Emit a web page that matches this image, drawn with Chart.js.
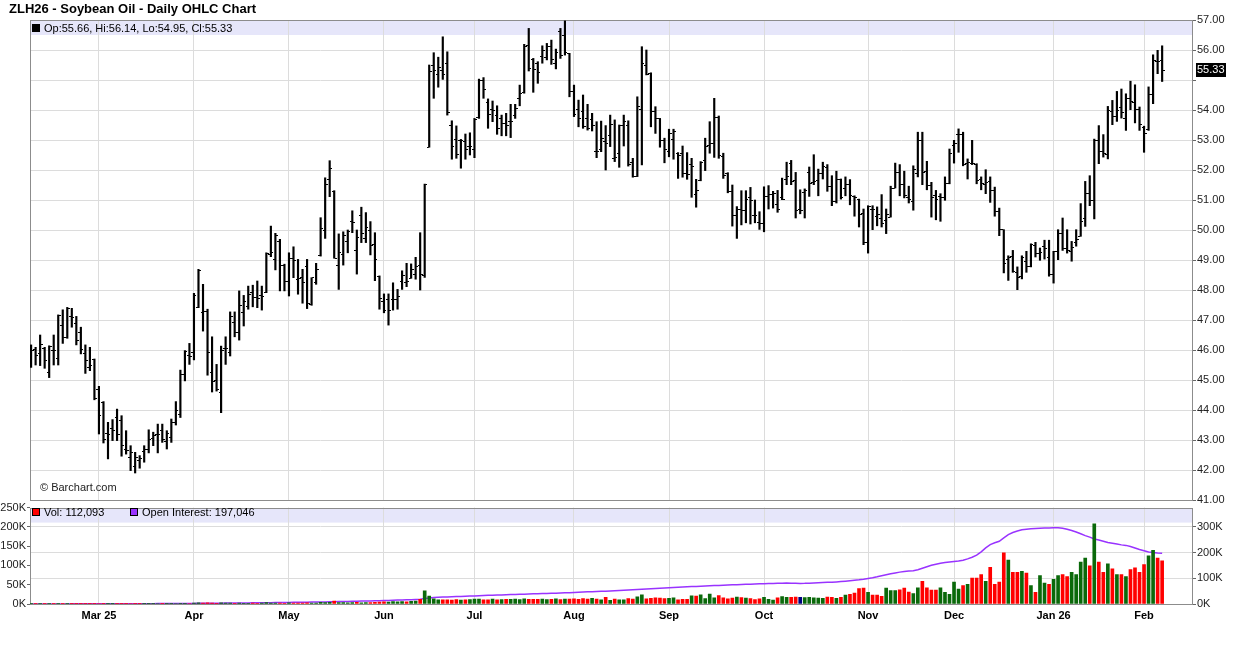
<!DOCTYPE html>
<html>
<head>
<meta charset="utf-8">
<script src="https://cdn.jsdelivr.net/npm/chart.js@4.4.1/dist/chart.umd.min.js"></script>
<style>
  html, body { margin: 0; padding: 0; background: #fff; }
  body { width: 1236px; height: 645px; position: relative; overflow: hidden; font-family: "Liberation Sans", Arial, sans-serif; }
  canvas { position: absolute; left: 0; }
  #price { top: 0; }
  #vol { top: 500px; }
  .title { position: absolute; left: 9px; top: 1px; font-size: 13px; font-weight: bold; line-height: 16px; color: #000; }
  .legend { position: absolute; font-size: 11px; line-height: 14px; color: #000; white-space: nowrap; }
  .sq { display: inline-block; width: 6px; height: 6px; border: 1px solid #000; margin-right: 4px; vertical-align: 0; }
  .copy { position: absolute; left: 40px; top: 481px; font-size: 11px; color: #222; }
</style>
</head>
<body>
<canvas id="price" width="1236" height="510"></canvas>
<canvas id="vol" width="1236" height="145"></canvas>
<div class="title">ZLH26 - Soybean Oil - Daily OHLC Chart</div>
<div class="legend" style="left:32px; top:21px;"><span class="sq" style="background:#000"></span>Op:55.66, Hi:56.14, Lo:54.95, Cl:55.33</div>
<div class="copy">© Barchart.com</div>
<div class="legend" style="left:32px; top:505px;"><span class="sq" style="background:#ff0000"></span>Vol: 112,093</div>
<div class="legend" style="left:130px; top:505px;"><span class="sq" style="background:#9933ff"></span>Open Interest: 197,046</div>
<script>
// daily bars, Feb 7 2025 .. Feb 6 2026 (index = trading day)
const monthIdx = [15, 36, 57, 78, 98, 120, 141, 162, 185, 204, 226, 246];
const monthLabels = ["Mar 25", "Apr", "May", "Jun", "Jul", "Aug", "Sep", "Oct", "Nov", "Dec", "Jan 26", "Feb"];

const openP = [
  45.53,46.03,45.90,46.06,45.26,45.98,45.72,46.83,46.42,47.12,
  46.90,46.57,45.87,45.42,45.67,44.70,44.26,43.23,43.37,43.76,
  43.64,42.70,42.42,42.12,42.31,42.61,42.70,43.06,43.17,43.31,
  42.94,43.09,43.59,43.85,45.19,45.82,45.91,47.41,47.24,47.27,
  45.24,44.97,44.60,46.04,45.91,46.93,46.60,47.24,47.44,47.93,
  47.74,47.82,47.91,49.19,49.02,49.62,48.82,48.30,49.04,48.36,
  48.41,48.80,47.52,48.24,49.16,49.98,51.67,51.28,48.83,49.17,
  49.61,50.28,49.31,50.50,49.72,49.98,49.53,48.44,47.61,47.69,
  47.67,47.69,48.28,48.24,48.39,48.53,48.83,48.47,52.76,55.47,
  55.17,55.33,55.56,53.50,53.02,52.98,52.94,52.80,52.67,53.74,
  55.00,54.26,54.03,53.83,53.72,53.56,53.63,53.83,54.39,54.59,
  56.14,55.67,55.56,55.78,55.74,56.11,55.56,56.61,56.48,55.89,
  54.61,54.03,53.94,53.72,53.67,52.63,52.67,52.94,53.14,52.39,
  52.56,53.47,53.47,52.24,51.80,54.02,55.47,55.22,53.94,53.72,
  53.00,52.61,53.02,52.56,52.56,51.87,52.17,51.20,51.64,52.33,
  52.83,52.89,53.76,52.44,51.87,51.28,50.50,50.67,50.64,51.09,
  50.50,50.24,50.22,51.12,51.18,50.84,51.10,51.70,52.21,51.66,
  50.68,51.26,51.92,51.57,51.66,51.90,52.10,51.46,50.96,51.68,
  51.40,51.51,51.12,51.01,50.54,49.59,50.70,50.46,50.40,50.32,
  50.43,51.40,51.92,51.51,51.10,50.96,51.90,53.00,51.96,51.48,
  51.14,51.12,51.07,51.54,52.81,53.18,53.18,52.23,52.23,52.18,
  51.70,51.51,51.63,51.32,50.62,50.01,49.03,49.12,48.59,48.46,
  48.96,48.77,49.48,49.23,49.44,49.10,48.51,49.29,49.88,49.40,
  49.29,49.57,49.79,50.40,51.21,50.99,52.99,52.62,52.51,53.96,
  53.77,54.07,53.73,54.40,54.26,54.03,53.43,53.34,54.51,55.62,
  55.66
];
const highP = [
  46.17,46.09,46.50,46.09,46.14,46.50,47.17,47.34,47.42,47.39,
  47.12,46.76,46.17,46.09,45.70,44.79,44.28,43.59,43.68,44.03,
  43.81,43.31,42.81,42.59,42.48,42.81,43.34,43.26,43.53,43.53,
  43.31,43.70,44.28,45.33,45.98,46.22,47.89,48.69,48.19,47.36,
  46.44,45.52,46.13,46.44,47.27,47.27,47.97,47.82,48.13,48.16,
  48.30,48.13,49.24,50.13,49.89,49.69,48.86,49.24,49.44,49.02,
  48.69,49.02,48.41,48.89,50.41,51.74,52.31,51.31,49.87,49.94,
  50.00,50.64,50.00,50.76,50.58,50.28,49.91,48.47,47.87,47.87,
  48.24,48.02,48.64,48.89,48.87,49.09,49.91,51.53,55.50,55.91,
  55.76,56.44,55.94,53.64,53.47,53.02,53.20,53.24,53.72,55.03,
  55.08,54.37,54.30,54.14,53.83,53.89,54.19,54.19,54.83,56.19,
  56.72,55.72,55.61,56.14,56.22,56.33,56.03,56.72,56.97,55.89,
  54.83,54.33,54.50,54.19,53.89,53.61,53.63,53.48,53.83,53.67,
  53.50,53.83,53.64,52.39,54.44,56.11,56.00,55.24,54.11,53.72,
  53.06,53.36,53.36,52.58,52.80,52.58,52.39,51.69,52.28,53.06,
  53.61,54.39,53.80,52.56,51.91,51.50,50.78,51.31,51.31,51.42,
  51.00,50.61,51.44,51.48,51.29,51.32,51.73,52.26,52.32,51.92,
  51.34,51.37,52.10,52.51,52.03,52.26,52.18,51.81,51.96,51.70,
  51.77,51.68,51.14,51.03,50.70,50.81,50.81,50.77,51.18,50.70,
  51.46,52.23,52.18,51.96,51.46,52.14,53.26,53.26,52.29,51.59,
  51.32,51.21,51.77,52.70,52.99,53.37,53.26,52.37,52.99,52.21,
  51.77,52.01,51.77,51.43,50.73,50.01,49.14,49.32,48.77,49.14,
  49.29,49.54,49.59,49.40,49.66,49.66,49.29,50.01,50.40,50.01,
  49.62,50.01,50.88,51.62,51.81,53.03,53.48,53.18,54.12,54.32,
  54.62,54.70,54.54,54.96,54.84,54.10,53.46,54.77,55.84,55.99,
  56.14
];
const lowP = [
  45.42,45.50,45.48,45.39,45.08,45.50,45.50,46.22,46.39,46.76,
  46.17,45.87,45.22,45.31,44.34,43.20,42.90,42.37,42.98,42.98,
  42.46,42.53,41.98,41.90,42.06,42.26,42.57,42.81,42.57,42.92,
  42.70,42.92,43.50,43.75,44.97,45.52,45.67,47.41,46.63,45.16,
  44.60,44.63,43.91,45.52,45.80,46.44,46.33,46.80,47.36,47.44,
  47.41,47.33,47.91,49.11,48.67,47.97,47.97,47.80,48.41,47.86,
  47.56,47.38,47.49,48.19,49.13,49.72,51.11,49.06,48.02,48.83,
  49.24,49.91,48.53,49.58,49.58,49.17,48.31,47.36,47.24,46.83,
  47.33,47.36,48.02,48.11,48.39,48.36,48.00,48.42,52.76,54.39,
  54.76,55.02,53.83,52.36,52.39,52.06,52.36,52.50,52.41,53.72,
  54.39,53.39,53.61,53.19,53.14,53.14,53.08,53.72,54.14,54.56,
  55.30,54.59,54.89,55.56,55.67,55.52,55.37,55.72,55.83,54.44,
  53.78,53.44,53.39,53.33,53.30,52.41,52.61,52.00,52.78,52.28,
  52.09,52.80,52.13,51.76,51.78,52.17,55.17,53.44,53.22,52.76,
  52.24,52.44,52.36,51.72,51.76,51.69,51.09,50.76,51.64,51.98,
  52.56,52.42,52.39,51.72,51.24,50.13,49.72,50.17,50.24,50.20,
  50.24,50.02,49.94,50.70,50.73,50.59,51.01,51.51,51.51,50.40,
  50.54,50.40,51.12,51.51,51.14,51.70,51.29,50.81,50.90,51.03,
  51.14,50.84,50.46,50.10,49.51,49.23,50.01,50.14,50.10,49.88,
  50.43,51.40,51.14,51.07,50.90,50.66,51.77,51.51,51.34,50.43,
  50.34,50.29,50.99,51.54,52.23,52.59,52.14,51.70,52.18,51.54,
  51.34,51.21,50.92,50.46,49.81,48.57,48.32,48.59,48.01,48.37,
  48.59,48.77,49.10,48.99,49.03,48.46,48.23,49.01,49.32,49.23,
  48.96,49.46,49.79,50.12,50.81,50.37,52.21,52.43,52.37,53.51,
  53.62,53.73,53.32,54.01,53.57,53.32,52.59,53.32,54.21,55.21,
  54.95
];
const closeP = [
  45.98,45.83,46.20,45.64,46.12,46.00,47.14,46.42,47.37,47.09,
  46.33,46.03,45.64,45.48,44.37,43.81,43.03,43.20,43.31,43.20,
  42.83,42.64,42.59,42.42,42.37,42.70,43.03,43.14,43.17,43.03,
  43.23,43.59,43.98,45.20,45.96,45.80,47.82,48.66,47.27,45.91,
  44.96,44.69,45.97,46.04,47.11,46.60,47.49,47.63,47.86,47.74,
  47.71,47.80,49.22,49.24,49.82,48.82,48.30,49.04,49.00,48.38,
  48.24,47.56,48.41,48.69,50.04,51.53,52.06,49.06,49.24,49.83,
  49.94,50.24,49.76,49.89,50.09,49.47,49.02,47.72,47.31,47.33,
  47.67,47.78,48.47,48.28,48.67,48.80,48.53,51.53,55.28,55.33,
  55.42,55.20,53.91,52.80,52.53,52.98,52.67,52.78,53.67,55.00,
  54.70,53.86,54.00,53.37,53.56,53.50,53.63,54.06,54.56,56.11,
  55.39,55.36,55.26,56.00,56.11,55.67,55.92,55.83,55.92,54.61,
  53.86,53.72,53.44,53.39,53.50,52.63,53.06,52.89,53.52,52.41,
  53.47,53.61,52.20,51.80,54.13,55.56,55.20,53.94,53.72,53.00,
  52.67,53.22,53.28,52.50,51.87,51.85,52.13,51.31,52.24,52.80,
  52.87,53.76,52.47,51.83,51.28,50.47,50.67,50.65,51.02,51.00,
  50.50,50.22,51.13,51.18,51.21,50.70,51.03,51.77,51.62,50.66,
  50.66,51.32,51.54,51.62,51.88,52.12,51.46,50.96,51.68,51.10,
  51.51,51.14,51.07,50.51,49.59,50.77,50.68,50.51,50.23,50.51,
  51.40,51.92,51.51,51.14,51.03,52.01,53.00,51.92,51.48,51.10,
  51.03,51.07,51.54,52.54,52.88,53.18,52.18,52.26,52.23,51.66,
  51.54,51.59,51.32,50.62,50.01,48.90,49.07,48.62,48.43,49.10,
  48.79,49.51,49.21,49.26,49.40,48.51,49.29,49.88,49.40,49.32,
  49.43,49.68,50.29,51.21,50.99,52.99,52.62,52.55,53.99,53.77,
  53.99,53.92,54.40,54.29,54.03,53.51,53.21,54.51,55.66,55.62,
  55.33
];
// volume, thousands of contracts
const volume = [
  0.4,0.3,0.5,0.3,0.6,0.4,0.8,0.5,0.4,0.6,
  0.5,0.7,0.4,0.5,1.0,1.2,0.9,0.8,0.6,0.7,
  1.1,0.9,1.3,0.8,0.6,0.9,1.0,0.7,1.2,0.8,
  0.9,1.1,1.4,2.0,1.5,1.2,2.5,3.1,2.2,2.8,
  2.4,1.9,3.0,2.2,2.6,1.8,2.4,2.0,1.6,2.3,
  1.9,2.1,3.4,2.6,2.2,2.5,1.8,2.8,2.2,2.6,
  2.3,2.9,2.1,2.4,4.2,3.6,4.5,7.5,4.0,3.8,
  3.3,3.6,4.1,3.2,3.5,3.9,4.4,5.2,5.5,5.0,
  6.2,5.8,6.5,5.4,6.8,7.5,12.0,34.0,20.5,13.5,
  10.5,11.0,10.8,10.2,11.5,10.0,10.8,11.2,12.5,13.0,
  11.0,10.5,12.8,10.6,11.4,11.8,12.0,12.5,11.2,13.2,
  12.4,11.8,12.0,12.6,11.5,12.2,13.5,11.6,12.8,13.0,
  13.5,12.2,14.0,12.6,15.0,13.0,11.0,17.0,9.5,12.5,
  11.0,10.5,14.0,13.0,18.5,24.0,13.5,14.5,16.0,15.5,
  14.0,15.0,16.0,10.5,12.0,12.0,21.0,20.5,24.0,14.0,
  25.5,16.0,22.0,16.0,13.5,15.5,18.0,16.5,15.5,14.0,
  11.5,13.5,17.0,12.0,10.0,16.0,19.5,17.0,17.0,18.0,
  17.0,16.5,17.0,16.0,15.5,14.5,18.0,17.0,15.0,17.0,
  23.0,25.0,28.0,40.0,41.0,30.0,23.0,23.0,20.0,41.0,
  35.0,35.0,37.0,41.0,31.0,27.0,42.0,59.0,42.0,36.0,
  36.0,42.0,30.0,25.0,57.0,39.0,48.0,51.0,67.0,67.0,
  76.0,59.0,95.0,51.0,57.0,133.0,114.0,82.0,82.0,85.0,
  80.0,48.0,30.0,74.0,54.0,51.0,64.0,74.0,76.0,71.0,
  82.0,76.0,109.0,119.0,99.0,208.0,109.0,82.0,104.0,91.0,
  76.0,76.0,71.0,89.0,94.0,82.0,102.0,125.0,139.0,119.0,
  112.093
];
// open interest, thousands of contracts
const openInt = [
  0.3,0.3,0.3,0.3,0.4,0.4,0.4,0.4,0.4,0.5,
  0.5,0.5,0.5,0.6,0.6,0.7,0.7,0.8,0.8,0.9,
  0.9,1.0,1.0,1.1,1.2,1.2,1.3,1.4,1.5,1.5,
  1.6,1.7,1.8,1.9,2.0,2.1,2.3,2.5,2.6,2.8,
  3.0,3.1,3.3,3.5,3.6,3.8,4.0,4.2,4.3,4.5,
  4.7,4.9,5.1,5.3,5.5,5.7,5.9,6.1,6.4,6.6,
  6.9,7.1,7.4,7.6,7.9,8.2,8.5,9.0,9.3,9.6,
  10.0,10.4,10.8,11.2,11.6,12.0,12.5,13.0,13.5,14.0,
  14.6,15.2,15.8,16.4,17.0,17.6,18.5,21.0,23.5,25.0,
  26.0,26.8,27.5,28.2,28.8,29.4,30.0,30.7,31.5,32.2,
  33.0,33.6,34.2,34.8,35.4,36.0,36.6,37.2,37.8,38.4,
  39.0,39.6,40.2,40.8,41.3,41.8,42.3,42.9,43.5,44.2,
  45.0,45.8,46.5,47.2,47.9,48.5,49.2,50.0,50.8,51.6,
  52.4,53.2,54.0,55.0,56.2,57.5,58.6,59.6,60.6,61.6,
  62.6,63.6,64.4,65.2,66.0,66.8,67.6,68.4,69.2,70.0,
  70.8,71.6,72.4,73.2,73.9,74.6,75.3,76.0,76.6,77.2,
  77.8,78.4,79.0,79.5,80.0,80.5,81.0,81.5,81.2,80.6,
  80.2,80.4,81.0,81.8,82.6,83.4,84.2,85.0,86.0,87.2,
  88.6,90.2,92.0,94.0,96.5,99.5,102.5,106.0,110.0,114.0,
  118.0,121.0,124.0,126.0,128.0,129.5,133.0,139.0,145.0,150.5,
  155.0,158.5,161.0,163.0,165.0,167.0,170.0,175.5,182.0,190.0,
  203.0,218.0,231.0,238.0,244.0,257.0,270.0,278.0,284.0,289.0,
  291.0,293.0,294.0,295.0,295.5,296.0,296.5,297.0,295.0,291.0,
  286.0,280.0,273.0,266.0,260.0,253.0,249.0,244.0,239.0,236.0,
  233.0,230.0,228.0,224.0,218.0,212.0,207.0,202.0,200.0,198.0,
  197.046
];
const oiTicks = [0, 100, 200, 300];

const FONT = '"Liberation Sans", Arial, sans-serif';
const GRID = '#dcdcdc';
const FRAME = '#8c8c8c';
const UP = '#0a690a', DOWN = '#ff0000', FLAT = '#000080';
const xMin = -0.24, xMax = 256.6;
const lastClose = closeP[closeP.length - 1];

Chart.defaults.font.family = FONT;
Chart.defaults.font.size = 11;
Chart.defaults.color = '#222';

// small open/close tick images
function tickImg(side) {
  const c = document.createElement('canvas');
  c.width = 5; c.height = 1;
  const g = c.getContext('2d');
  g.fillStyle = '#000';
  g.fillRect(side === 'left' ? 0 : 3, 0, 2, 1);
  return c;
}

const bandPlugin = {
  id: 'band',
  beforeDraw(chart) {
    const a = chart.chartArea, ctx = chart.ctx;
    ctx.save();
    ctx.fillStyle = '#e6e6fa';
    ctx.fillRect(a.left, a.top + 1, a.right - a.left, 14);
    ctx.restore();
  }
};
const framePlugin = {
  id: 'frame',
  beforeDatasetsDraw(chart) {
    const a = chart.chartArea, ctx = chart.ctx;
    ctx.save();
    ctx.strokeStyle = FRAME;
    ctx.lineWidth = 1;
    ctx.strokeRect(Math.round(a.left) + 0.5, Math.round(a.top) + 0.5,
      Math.round(a.right - a.left), Math.round(a.bottom - a.top));
    ctx.restore();
  }
};
const lastPricePlugin = {
  id: 'lastPrice',
  afterDraw(chart) {
    const y = Math.round(chart.scales.y.getPixelForValue(lastClose));
    const ctx = chart.ctx;
    ctx.save();
    ctx.fillStyle = '#000';
    ctx.fillRect(1196, y - 7, 30, 14);
    ctx.fillStyle = '#fff';
    ctx.font = '11px ' + FONT;
    ctx.textBaseline = 'middle';
    ctx.fillText(lastClose.toFixed(2), 1197, y);
    ctx.restore();
  }
};

const monthTicks = s => { s.ticks = monthIdx.map(v => ({ value: v })); };

new Chart(document.getElementById('price'), {
  type: 'bar',
  data: {
    datasets: [
      {
        type: 'line',
        data: openP.map((v, i) => ({ x: i, y: v })),
        showLine: false,
        pointStyle: tickImg('left'),
        pointRadius: 3,
        order: 1
      },
      {
        type: 'line',
        data: closeP.map((v, i) => ({ x: i, y: v })),
        showLine: false,
        pointStyle: tickImg('right'),
        pointRadius: 3,
        order: 1
      },
      {
        type: 'bar',
        data: highP.map((h, i) => ({ x: i, y: [lowP[i], h] })),
        backgroundColor: '#000',
        borderWidth: 0,
        barThickness: 1.5,
        order: 2
      }
    ]
  },
  options: {
    responsive: false,
    animation: false,
    devicePixelRatio: 1,
    events: [],
    layout: { padding: { left: 30, top: 20, right: 0, bottom: 10 } },
    plugins: { legend: { display: false }, tooltip: { enabled: false } },
    scales: {
      x: {
        type: 'linear', min: xMin, max: xMax, offset: false,
        grid: { color: GRID, drawTicks: false, offset: false },
        border: { display: false },
        ticks: { display: false },
        afterBuildTicks: monthTicks,
        afterFit: s => { s.height = 0; }
      },
      y: {
        position: 'right', min: 41, max: 57,
        grid: { color: GRID, tickLength: 4, tickColor: '#666' },
        border: { display: false },
        ticks: {
          stepSize: 1, padding: 1,
          // the last-price box covers the nearest label
          callback: v => Math.abs(v - lastClose) < 0.5 ? '' : v.toFixed(2)
        },
        afterFit: s => { s.width = 44; }
      }
    }
  },
  plugins: [bandPlugin, framePlugin, lastPricePlugin]
});

const volColors = closeP.map((c, i) =>
  i === 0 || c > closeP[i - 1] ? UP : (c < closeP[i - 1] ? DOWN : FLAT));

new Chart(document.getElementById('vol'), {
  type: 'bar',
  data: {
    datasets: [
      {
        type: 'bar',
        data: volume.map((v, i) => ({ x: i, y: v })),
        yAxisID: 'yVol',
        backgroundColor: volColors,
        borderWidth: 0,
        barThickness: 3,
        order: 1
      },
      {
        type: 'line',
        data: openInt.map((v, i) => ({ x: i, y: v })),
        yAxisID: 'yOI',
        borderColor: '#9933ff',
        borderWidth: 1.5,
        pointRadius: 0,
        order: 2
      }
    ]
  },
  options: {
    responsive: false,
    animation: false,
    devicePixelRatio: 1,
    events: [],
    layout: { padding: { left: 0, top: 4, right: 0, bottom: 21 } },
    plugins: { legend: { display: false }, tooltip: { enabled: false } },
    scales: {
      x: {
        type: 'linear', min: xMin, max: xMax, offset: false,
        grid: { color: GRID, drawTicks: false, offset: false },
        border: { display: false },
        ticks: {
          padding: 5, maxRotation: 0, autoSkip: false, color: '#000',
          font: { weight: 'bold', size: 11 },
          callback: (v, i) => monthLabels[i]
        },
        afterBuildTicks: monthTicks,
        afterFit: s => { s.height = 20; }
      },
      yVol: {
        position: 'left', min: 0, max: 250,
        grid: { drawOnChartArea: false, tickLength: 3, tickColor: '#666' },
        border: { display: false },
        ticks: { stepSize: 50, padding: 1, callback: v => v + 'K' },
        afterFit: s => { s.width = 30; }
      },
      yOI: {
        position: 'right', min: 0, max: 375,
        grid: { color: GRID, tickLength: 4, tickColor: '#666' },
        border: { display: false },
        ticks: { padding: 1, callback: v => v + 'K' },
        afterBuildTicks: s => { s.ticks = oiTicks.map(v => ({ value: v })); },
        afterFit: s => { s.width = 44; }
      }
    }
  },
  plugins: [bandPlugin, framePlugin]
});
</script>
</body>
</html>
